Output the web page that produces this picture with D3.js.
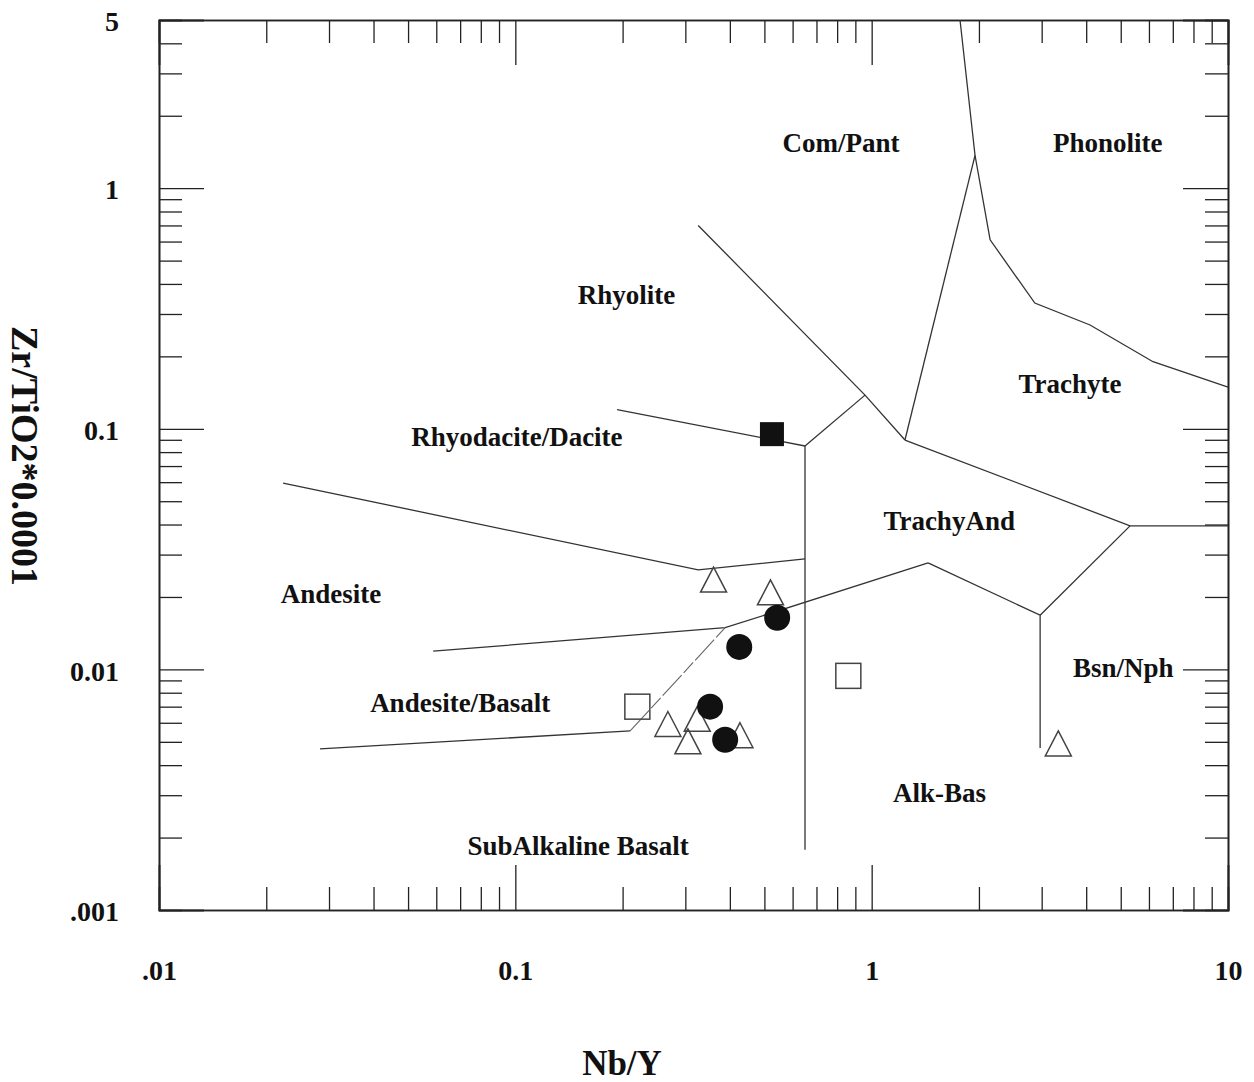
<!DOCTYPE html>
<html>
<head>
<meta charset="utf-8">
<script src="https://cdn.jsdelivr.net/npm/d3@7"></script>
<style>
  html, body { margin: 0; padding: 0; background: #fff; }
  svg text { font-family: "Liberation Serif", "Times New Roman", serif; font-weight: bold; fill: #111; }
</style>
</head>
<body>
<svg id="chart" width="1254" height="1082"></svg>
<script>
// ---- data ----
const xTickValues = [0.01, 0.1, 1, 10];
const xTickLabels = [".01", "0.1", "1", "10"];
const yTickValues = [5, 1, 0.1, 0.01, 0.001];
const yTickLabels = ["5", "1", "0.1", "0.01", ".001"];

// field boundaries (Nb/Y, Zr/TiO2*0.0001)
const boundaryPhonolite = [[1.77, 5], [1.95, 1.37], [2.15, 0.61], [2.87, 0.333], [4.1, 0.27], [6.16, 0.19], [10, 0.149]];
const boundaryComPantTrachyte = [[1.95, 1.37], [1.24, 0.0898]];
const boundaryRhyolite = [[0.326, 0.70], [0.958, 0.138], [1.24, 0.0898]];
const boundaryRhyodaciteTop = [[0.958, 0.138], [0.65, 0.0848]];
const boundaryRhyolRhyodac = [[0.193, 0.12], [0.65, 0.0848]];
const boundaryVertical = [[0.65, 0.0848], [0.65, 0.00178]];
const boundaryAndesiteTop = [[0.0223, 0.0595], [0.326, 0.0259], [0.65, 0.0288]];
const boundaryAndesiteBase = [[0.0588, 0.0119], [0.388, 0.0149], [1.44, 0.0277]];
const boundaryTrachyAndLow = [[1.44, 0.0277], [2.97, 0.0168], [2.97, 0.00471]];
const boundaryTrachyte = [[1.24, 0.0898], [5.31, 0.0395], [10, 0.0395]];
const boundaryBsn = [[5.31, 0.0395], [2.97, 0.0168]];
const boundaryAndBasalt = [[0.0283, 0.00467], [0.21, 0.00555]];
const boundaryAndBasaltDiag = [[0.21, 0.00555], [0.388, 0.0149]];

const fieldNames = ["Com/Pant", "Phonolite", "Rhyolite", "Trachyte", "Rhyodacite/Dacite", "TrachyAnd",
  "Andesite", "Bsn/Nph", "Andesite/Basalt", "Alk-Bas", "SubAlkaline Basalt"];
const fieldX = [0.82, 4.6, 0.205, 3.6, 0.101, 1.65, 0.0304, 5.08, 0.07, 1.55, 0.15];
const fieldY = [1.55, 1.55, 0.36, 0.154, 0.0924, 0.0414, 0.0206, 0.0102, 0.00725, 0.00307, 0.00185];

// samples
const filledSquareX = [0.525];
const filledSquareY = [0.095];
const openTriangleX = [0.36, 0.52, 0.268, 0.324, 0.305, 0.427, 3.34];
const openTriangleY = [0.0235, 0.0208, 0.0059, 0.0062, 0.0050, 0.0053, 0.0049];
const filledCircleX = [0.543, 0.425, 0.352, 0.388];
const filledCircleY = [0.0164, 0.0124, 0.0070, 0.0051];
const openSquareX = [0.22, 0.86];
const openSquareY = [0.0070, 0.0094];

// ---- chart ----
const svg = d3.select("#chart");
const L = 159, R = 1228, T = 20, B = 910;
const x = d3.scaleLog().domain([0.01, 10]).range([L, R]);
const y = d3.scaleLog().domain([0.001, 5]).range([B, T]);

const isMajor = v => Math.abs(Math.log10(v) - Math.round(Math.log10(v))) < 1e-9;
const xMinor = x.ticks().filter(v => !isMajor(v));
const yMinor = y.ticks().filter(v => !isMajor(v));
const MAJ = 45, MIN = 23;

function styleAxis(g) {
  g.selectAll("path.domain").attr("stroke", "#222").attr("stroke-width", 1.6);
  g.selectAll(".tick line").attr("stroke", "#222").attr("stroke-width", 1.3);
}

// bottom
svg.append("g").attr("transform", `translate(0,${B})`)
  .call(d3.axisBottom(x).tickValues(xMinor).tickSize(-MIN).tickFormat(""))
  .call(styleAxis);
svg.append("g").attr("transform", `translate(0,${B})`)
  .call(d3.axisBottom(x).tickValues(xTickValues).tickSize(-MAJ).tickPadding(50)
    .tickFormat((d, i) => xTickLabels[i]))
  .call(styleAxis)
  .call(g => g.selectAll("text").attr("font-size", 28).attr("fill", "#111"));
// top
svg.append("g").attr("transform", `translate(0,${T})`)
  .call(d3.axisTop(x).tickValues(xMinor).tickSize(-MIN).tickFormat(""))
  .call(styleAxis);
svg.append("g").attr("transform", `translate(0,${T})`)
  .call(d3.axisTop(x).tickValues(xTickValues).tickSize(-MAJ).tickFormat(""))
  .call(styleAxis);
// left
svg.append("g").attr("transform", `translate(${L},0)`)
  .call(d3.axisLeft(y).tickValues(yMinor).tickSize(-MIN).tickFormat(""))
  .call(styleAxis);
svg.append("g").attr("transform", `translate(${L},0)`)
  .call(d3.axisLeft(y).tickValues(yTickValues).tickSize(-MAJ).tickPadding(40)
    .tickFormat((d, i) => yTickLabels[i]))
  .call(styleAxis)
  .call(g => g.selectAll("text").attr("font-size", 28).attr("dy", "0.38em").attr("fill", "#111"));
// right
svg.append("g").attr("transform", `translate(${R},0)`)
  .call(d3.axisRight(y).tickValues(yMinor).tickSize(-MIN).tickFormat(""))
  .call(styleAxis);
svg.append("g").attr("transform", `translate(${R},0)`)
  .call(d3.axisRight(y).tickValues(yTickValues).tickSize(-MAJ).tickFormat(""))
  .call(styleAxis);

svg.selectAll("g").attr("font-family", null);

// boundaries
const line = d3.line().x(d => x(d[0])).y(d => y(d[1]));
const boundaries = [boundaryPhonolite, boundaryComPantTrachyte, boundaryRhyolite, boundaryRhyodaciteTop,
  boundaryRhyolRhyodac, boundaryVertical, boundaryAndesiteTop, boundaryAndesiteBase, boundaryTrachyAndLow,
  boundaryTrachyte, boundaryBsn, boundaryAndBasalt];
svg.append("g").selectAll("path").data(boundaries).join("path")
  .attr("d", line).attr("fill", "none").attr("stroke", "#333").attr("stroke-width", 1.3);
svg.append("path").datum(boundaryAndBasaltDiag).attr("d", line)
  .attr("fill", "none").attr("stroke", "#666").attr("stroke-width", 1.1)
  .attr("stroke-dasharray", "28,3,14,3");

// field labels
svg.append("g").selectAll("text").data(fieldNames).join("text")
  .attr("x", (d, i) => x(fieldX[i])).attr("y", (d, i) => y(fieldY[i]))
  .attr("dy", "0.35em").attr("text-anchor", "middle").attr("font-size", 27).text(d => d);

// samples
const pts = (xs, ys) => xs.map((v, i) => [v, ys[i]]);
const g = svg.append("g");
g.selectAll("rect.fs").data(pts(filledSquareX, filledSquareY)).join("rect")
  .attr("x", d => x(d[0]) - 12).attr("y", d => y(d[1]) - 12).attr("width", 24).attr("height", 24)
  .attr("fill", "#111");
g.selectAll("rect.os").data(pts(openSquareX, openSquareY)).join("rect")
  .attr("x", d => x(d[0]) - 12.5).attr("y", d => y(d[1]) - 12.5).attr("width", 25).attr("height", 25)
  .attr("fill", "none").attr("stroke", "#444").attr("stroke-width", 1.5);
g.selectAll("path.tri").data(pts(openTriangleX, openTriangleY)).join("path")
  .attr("d", d => { const cx = x(d[0]), cy = y(d[1]);
    return `M${cx},${cy - 13}L${cx + 13},${cy + 12}L${cx - 13},${cy + 12}Z`; })
  .attr("fill", "none").attr("stroke", "#444").attr("stroke-width", 1.5);
g.selectAll("circle").data(pts(filledCircleX, filledCircleY)).join("circle")
  .attr("cx", d => x(d[0])).attr("cy", d => y(d[1])).attr("r", 13).attr("fill", "#111");

// axis titles
svg.append("text").attr("x", 622).attr("y", 1075).attr("text-anchor", "middle")
  .attr("font-size", 35).text("Nb/Y");
svg.append("text").attr("transform", `translate(12,${456}) rotate(90)`).attr("text-anchor", "middle")
  .attr("font-size", 38).text("Zr/TiO2*0.0001");
</script>
</body>
</html>
